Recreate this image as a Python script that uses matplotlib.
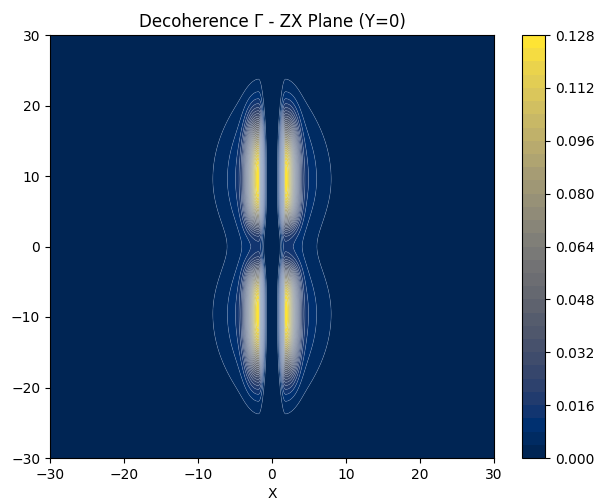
import numpy as np
import matplotlib
matplotlib.use("Agg")
import matplotlib.pyplot as plt

# grid extent (ZX plane, Y=0)
x_range = [-30, 30]
z_range = [-30, 30]
n_grid = 401

# lobe parameters
peak_value = 0.1278
lobe_x = 1.8            # |x| of the bright cores
lobe_z = 10.0           # |z| of the bright cores
core_x_in = 0.55        # core falloff towards x = 0 (dark gap)
core_x_out = 1.55       # core falloff away from the axis
core_z_in = 6.5         # core falloff towards z = 0
core_z_out = 7.0        # core falloff towards the tips
halo_weight = 0.28      # faint wide halo around the cores
halo_x_len = 2.8
halo_z_in = 8.5
halo_z_out = 9.7
waist = 3.0             # rounds off the pinch of the halo at z = 0

levels = np.linspace(0, 0.128, 33)
cbar_ticks = [0.000, 0.016, 0.032, 0.048, 0.064, 0.080, 0.096, 0.112, 0.128]
axis_ticks = [-30, -20, -10, 0, 10, 20, 30]

x = np.linspace(x_range[0], x_range[1], n_grid)
z = np.linspace(z_range[0], z_range[1], n_grid)
X, Z = np.meshgrid(x, z)

v = np.abs(X) - lobe_x
dz_core = np.abs(Z) - lobe_z
dz_halo = np.sqrt(Z ** 2 + waist ** 2) - lobe_z

# bright cores
core_x = np.where(v < 0, np.exp(-(v / core_x_in) ** 2),
                  np.exp(-(np.abs(v) / core_x_out) ** 2.5))
core_z = np.where(dz_core < 0,
                  np.exp(-(np.abs(dz_core) / core_z_in) ** 4),
                  np.exp(-(np.abs(dz_core) / core_z_out) ** 2.5))

# wide faint halo (smooth at its ridge)
vp = np.clip(v, 0, None)
halo_x = np.where(v < 0, np.exp(-(v / 0.6) ** 2),
                  np.exp(-(np.sqrt(vp ** 2 + 0.64) - 0.8) / halo_x_len))
halo_z = np.where(dz_halo < 0, np.exp(-(dz_halo / halo_z_in) ** 2),
                  np.exp(-(dz_halo / halo_z_out) ** 2))

gamma = core_x * core_z + halo_weight * halo_x * halo_z
gamma = peak_value * gamma / gamma.max()

fig = plt.figure(figsize=(5.98, 4.99), dpi=100)
ax = fig.add_axes([50 / 598, 41 / 499, 444 / 598, 423 / 499])
cax = fig.add_axes([522 / 598, 41 / 499, 23 / 598, 423 / 499])

cf = ax.contourf(X, Z, gamma, levels=levels, cmap="cividis", antialiased=True)
# faint seams between the filled bands, as in the reference
ax.contour(X, Z, gamma, levels=levels[1:-1], colors="#9fb3d6",
           linewidths=0.4, alpha=0.45)
ax.set_xticks(axis_ticks)
ax.set_yticks(axis_ticks)
ax.set_xlabel("X")
ax.set_title("Decoherence Γ - ZX Plane (Y=0)")

cb = fig.colorbar(cf, cax=cax)
cb.set_ticks(cbar_ticks)
cb.ax.set_yticklabels([f"{t:.3f}" for t in cbar_ticks])

fig.savefig("out.png", dpi=100)
